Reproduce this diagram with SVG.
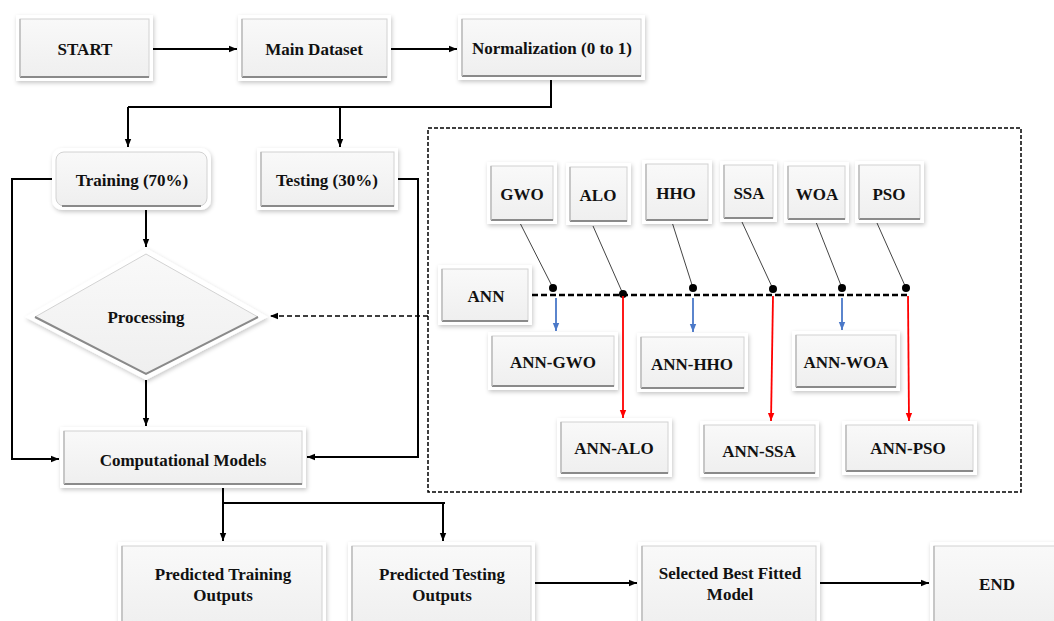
<svg xmlns="http://www.w3.org/2000/svg" width="1054" height="621" viewBox="0 0 1054 621">
<defs>
<style>
.o{fill:#ffffff;filter:url(#sh)}
.i{fill:url(#g);stroke:#d2d2d2;stroke-width:1}
.bb{stroke:#8a8a8a;stroke-width:2;fill:none}
.bl{stroke:#bdbdbd;stroke-width:1.5;fill:none}
.t{font-family:"Liberation Serif","Times New Roman",serif;font-weight:bold;font-size:17px;text-anchor:middle;dominant-baseline:central;fill:#111}
.c{stroke:#000;stroke-width:2;fill:none}
.ca{stroke:#000;stroke-width:2;fill:none;marker-end:url(#ab)}
.sl{stroke:#444;stroke-width:1;fill:none}
.blu{stroke:#4a78c8;stroke-width:1.8;fill:none;marker-end:url(#abl)}
.red{stroke:#ff0000;stroke-width:1.8;fill:none;marker-end:url(#ar)}
.dot{fill:#000}
</style>
<linearGradient id="g" x1="0" y1="0" x2="0" y2="1">
<stop offset="0" stop-color="#f9f9f9"/>
<stop offset="1" stop-color="#efefef"/>
</linearGradient>
<filter id="sh" x="-20%" y="-20%" width="140%" height="140%">
<feDropShadow dx="1" dy="2" stdDeviation="2" flood-color="#000" flood-opacity="0.22"/>
</filter>
<marker id="ab" viewBox="0 0 10 10" refX="10" refY="5" markerWidth="8" markerHeight="8" markerUnits="userSpaceOnUse" orient="auto"><path d="M0,1 L10,5 L0,9 z" fill="#000"/></marker>
<marker id="abl" viewBox="0 0 10 10" refX="10" refY="5" markerWidth="8" markerHeight="8" markerUnits="userSpaceOnUse" orient="auto"><path d="M0,1 L10,5 L0,9 z" fill="#4a78c8"/></marker>
<marker id="ar" viewBox="0 0 10 10" refX="10" refY="5" markerWidth="8" markerHeight="8" markerUnits="userSpaceOnUse" orient="auto"><path d="M0,1 L10,5 L0,9 z" fill="#ff0000"/></marker>
</defs>
<rect x="0" y="0" width="1054" height="621" fill="#ffffff"/>

<!-- dashed frame -->
<rect x="428" y="128" width="593" height="364" fill="none" stroke="#000" stroke-width="1.5" stroke-dasharray="4 2"/>

<g id="connectors">
<path class="ca" d="M153 49 H237"/>
<path class="ca" d="M391 49 H457"/>
<path class="c" d="M551 80 V107 H128"/>
<path class="ca" d="M128 107 V147"/>
<path class="ca" d="M340 107 V147"/>
<path class="ca" d="M53 179 H12 V459 H59"/>
<path class="ca" d="M398 179 H418 V457 H307"/>
<path class="ca" d="M146 210 V247"/>
<path class="ca" d="M146 380 V426"/>
<path d="M428 316 H270" stroke="#000" stroke-width="1.6" stroke-dasharray="5 3" fill="none" marker-end="url(#ab)"/>
<path class="c" d="M223 488 V503 H445"/>
<path class="ca" d="M223 503 V541"/>
<path class="ca" d="M443 503 V541"/>
<path class="ca" d="M535 583 H637"/>
<path class="ca" d="M820 583 H929"/>
<!-- ANN bus -->
<path d="M532 295 H907" stroke="#000" stroke-width="2.5" stroke-dasharray="6 3" fill="none"/>
<path class="sl" d="M520 223 L553 288"/>
<path class="sl" d="M593 226 L623 294"/>
<path class="sl" d="M672 222 L693 288"/>
<path class="sl" d="M742 222 L773 289"/>
<path class="sl" d="M816 222 L842 288"/>
<path class="sl" d="M877 223 L906 288"/>
<circle class="dot" cx="553" cy="288" r="4"/>
<circle class="dot" cx="623" cy="294" r="4"/>
<circle class="dot" cx="693" cy="288" r="4"/>
<circle class="dot" cx="773" cy="289" r="4"/>
<circle class="dot" cx="842" cy="288" r="4"/>
<circle class="dot" cx="906" cy="288" r="4"/>
<path class="blu" d="M556 298 V331"/>
<path class="blu" d="M693 298 V332"/>
<path class="blu" d="M842 298 V330"/>
<path class="red" d="M623 296 V418"/>
<path class="red" d="M773 296 L771 421"/>
<path class="red" d="M908 296 L909 421"/>
</g>

<g id="n-start"><rect class="o" x="16" y="15" width="137" height="66"/><rect class="i" x="20" y="19" width="129" height="58"/><path class="bb" d="M20 77 H149"/><path class="bl" d="M20 19 V77"/><text class="t" x="85" y="49">START</text></g>
<g id="n-main"><rect class="o" x="238" y="15" width="153" height="66"/><rect class="i" x="242" y="19" width="145" height="58"/><path class="bb" d="M242 77 H387"/><path class="bl" d="M242 19 V77"/><text class="t" x="314" y="49">Main Dataset</text></g>
<g id="n-norm"><rect class="o" x="458" y="15" width="187" height="65"/><rect class="i" x="462" y="19" width="179" height="57"/><path class="bb" d="M462 76 H641"/><path class="bl" d="M462 19 V76"/><text class="t" x="552" y="48">Normalization (0 to 1)</text></g>

<g id="n-training"><rect class="o" x="52" y="148" width="159" height="62" rx="10"/><rect class="i" x="56" y="152" width="151" height="54" rx="8"/><path class="bb" d="M62 206 H201"/><text class="t" x="132" y="180">Training (70%)</text></g>
<g id="n-testing"><rect class="o" x="257" y="148" width="141" height="62"/><rect class="i" x="261" y="152" width="133" height="54"/><path class="bb" d="M261 206 H394"/><path class="bl" d="M261 152 V206"/><text class="t" x="327" y="180">Testing (30%)</text></g>

<g id="n-processing"><polygon class="o" points="146,248 268,317 146,380 25,317"/><polygon class="i" points="146,254 258,317 146,374 35,317"/><path class="bb" d="M35 317 L146 374 L258 317"/><text class="t" x="146" y="317">Processing</text></g>

<g id="n-cm"><rect class="o" x="60" y="427" width="246" height="61"/><rect class="i" x="64" y="431" width="238" height="53"/><path class="bb" d="M64 484 H302"/><path class="bl" d="M64 431 V484"/><text class="t" x="183" y="460">Computational Models</text></g>

<g id="n-gwo"><rect class="o" x="487" y="162" width="70" height="62"/><rect class="i" x="491" y="166" width="62" height="54"/><path class="bb" d="M491 220 H553"/><path class="bl" d="M491 166 V220"/><text class="t" x="522" y="194">GWO</text></g>
<g id="n-alo"><rect class="o" x="566" y="163" width="65" height="62"/><rect class="i" x="570" y="167" width="57" height="54"/><path class="bb" d="M570 221 H627"/><path class="bl" d="M570 167 V221"/><text class="t" x="598" y="195">ALO</text></g>
<g id="n-hho"><rect class="o" x="642" y="160" width="70" height="64"/><rect class="i" x="646" y="164" width="62" height="56"/><path class="bb" d="M646 220 H708"/><path class="bl" d="M646 164 V220"/><text class="t" x="676" y="193">HHO</text></g>
<g id="n-ssa"><rect class="o" x="720" y="161" width="57" height="61"/><rect class="i" x="724" y="165" width="49" height="53"/><path class="bb" d="M724 218 H773"/><path class="bl" d="M724 165 V218"/><text class="t" x="749" y="193">SSA</text></g>
<g id="n-woa"><rect class="o" x="784" y="162" width="65" height="61"/><rect class="i" x="788" y="166" width="57" height="53"/><path class="bb" d="M788 219 H845"/><path class="bl" d="M788 166 V219"/><text class="t" x="817" y="194">WOA</text></g>
<g id="n-pso"><rect class="o" x="855" y="161" width="69" height="62"/><rect class="i" x="859" y="165" width="61" height="54"/><path class="bb" d="M859 219 H920"/><path class="bl" d="M859 165 V219"/><text class="t" x="889" y="194">PSO</text></g>

<g id="n-ann"><rect class="o" x="438" y="265" width="94" height="60"/><rect class="i" x="442" y="269" width="86" height="52"/><path class="bb" d="M442 321 H528"/><path class="bl" d="M442 269 V321"/><text class="t" x="486" y="296">ANN</text></g>

<g id="n-ann-gwo"><rect class="o" x="488" y="332" width="130" height="58"/><rect class="i" x="492" y="336" width="122" height="50"/><path class="bb" d="M492 386 H614"/><path class="bl" d="M492 336 V386"/><text class="t" x="553" y="362">ANN-GWO</text></g>
<g id="n-ann-hho"><rect class="o" x="637" y="333" width="111" height="59"/><rect class="i" x="641" y="337" width="103" height="51"/><path class="bb" d="M641 388 H744"/><path class="bl" d="M641 337 V388"/><text class="t" x="692" y="364">ANN-HHO</text></g>
<g id="n-ann-woa"><rect class="o" x="792" y="331" width="108" height="60"/><rect class="i" x="796" y="335" width="100" height="52"/><path class="bb" d="M796 387 H896"/><path class="bl" d="M796 335 V387"/><text class="t" x="846" y="362">ANN-WOA</text></g>
<g id="n-ann-alo"><rect class="o" x="557" y="418" width="115" height="59"/><rect class="i" x="561" y="422" width="107" height="51"/><path class="bb" d="M561 473 H668"/><path class="bl" d="M561 422 V473"/><text class="t" x="614" y="448">ANN-ALO</text></g>
<g id="n-ann-ssa"><rect class="o" x="700" y="421" width="119" height="56"/><rect class="i" x="704" y="425" width="111" height="48"/><path class="bb" d="M704 473 H815"/><path class="bl" d="M704 425 V473"/><text class="t" x="759" y="451">ANN-SSA</text></g>
<g id="n-ann-pso"><rect class="o" x="842" y="421" width="135" height="54"/><rect class="i" x="846" y="425" width="127" height="46"/><path class="bb" d="M846 471 H973"/><path class="bl" d="M846 425 V471"/><text class="t" x="908" y="448">ANN-PSO</text></g>

<g id="n-pred-train"><rect class="o" x="118" y="542" width="208" height="90"/><rect class="i" x="122" y="546" width="200" height="82"/><path class="bl" d="M122 546 V628"/><text class="t" x="223" y="574">Predicted Training</text><text class="t" x="223" y="595">Outputs</text></g>
<g id="n-pred-test"><rect class="o" x="348" y="542" width="187" height="90"/><rect class="i" x="352" y="546" width="179" height="82"/><path class="bl" d="M352 546 V628"/><text class="t" x="442" y="574">Predicted Testing</text><text class="t" x="442" y="595">Outputs</text></g>
<g id="n-selected"><rect class="o" x="638" y="542" width="182" height="90"/><rect class="i" x="642" y="546" width="174" height="82"/><path class="bl" d="M642 546 V628"/><text class="t" x="730" y="573">Selected Best Fitted</text><text class="t" x="730" y="594">Model</text></g>
<g id="n-end"><rect class="o" x="930" y="542" width="134" height="90"/><rect class="i" x="934" y="546" width="126" height="82"/><path class="bl" d="M934 546 V628"/><text class="t" x="997" y="584">END</text></g>
</svg>
